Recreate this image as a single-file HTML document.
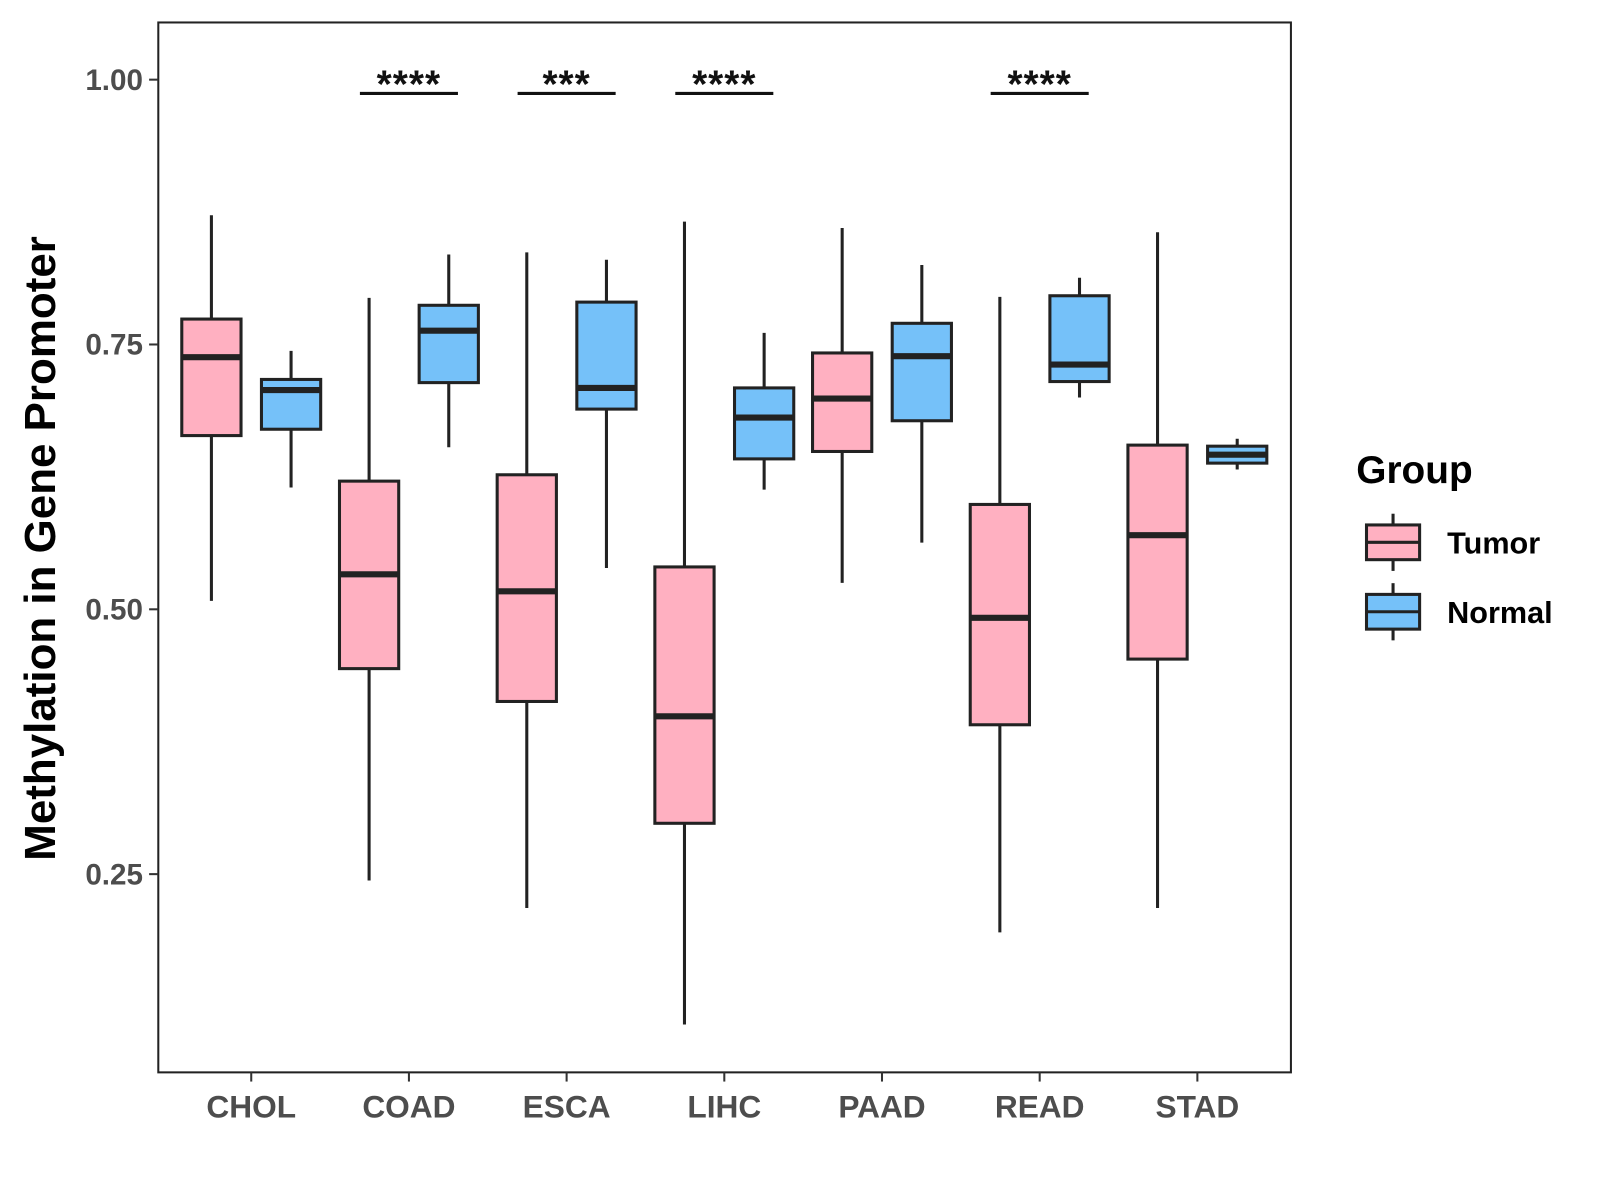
<!DOCTYPE html>
<html><head><meta charset="utf-8"><style>
html,body{margin:0;padding:0;background:#fff;}
svg{display:block;font-family:"Liberation Sans",Arial,sans-serif;}
</style></head><body>
<svg id="chart" width="1600" height="1200" viewBox="0 0 1600 1200">
<rect x="0" y="0" width="1600" height="1200" fill="#fff"/>
<g id="plot" transform="scale(1.0213)"></g>
</svg>
<script>
const categories = ["CHOL","COAD","ESCA","LIHC","PAAD","READ","STAD"];
// [whiskerLow, q1, median, q3, whiskerHigh]
const tumorStats = [
 [0.508,0.664,0.738,0.774,0.872],
 [0.244,0.444,0.533,0.621,0.794],
 [0.218,0.413,0.517,0.627,0.837],
 [0.108,0.298,0.399,0.540,0.866],
 [0.525,0.649,0.699,0.742,0.860],
 [0.195,0.391,0.492,0.599,0.795],
 [0.218,0.453,0.570,0.655,0.856]
];
const normalStats = [
 [0.615,0.670,0.707,0.717,0.744],
 [0.653,0.714,0.763,0.787,0.835],
 [0.539,0.689,0.709,0.790,0.830],
 [0.613,0.642,0.681,0.709,0.761],
 [0.563,0.678,0.739,0.770,0.825],
 [0.700,0.715,0.731,0.796,0.813],
 [0.632,0.638,0.646,0.654,0.661]
];
const yTicks = [0.25,0.50,0.75,1.00];
const yTickLabels = ["0.25","0.50","0.75","1.00"];
const sigCategories = ["COAD","ESCA","LIHC","READ"];
const sigLabels = ["****","***","****","****"];
const sigLevel = 0.987;

const NS="http://www.w3.org/2000/svg";
const g=document.getElementById('plot');
const L=155,R=1264,T=22,B=1050;
function y(v){return 78+(1-v)*1037.2;}
function x(i){return 246+i*154.4;}
function mk(tag,attrs,parent){const e=document.createElementNS(NS,tag);for(const k in attrs)e.setAttribute(k,attrs[k]);(parent||g).appendChild(e);return e;}

const panel=mk('rect',{x:L,y:T,width:R-L,height:B-T,fill:'none',stroke:'#222','stroke-width':2});



yTicks.forEach((v,i)=>{
 const t=mk('line',{x1:L-9,x2:L,y1:y(v),y2:y(v),stroke:'#333','stroke-width':2});
 
 
 const tx=mk('text',{x:L-15,y:y(v)+10,'text-anchor':'end','font-size':29,'font-weight':'bold',fill:'#4d4d4d'});
 tx.textContent=yTickLabels[i];
 
 
});
categories.forEach((c,i)=>{
 const t=mk('line',{x1:x(i),x2:x(i),y1:B,y2:B+9,stroke:'#333','stroke-width':2});
 
 
 const tx=mk('text',{x:x(i),y:B+44,'text-anchor':'middle','font-size':31,'font-weight':'bold',fill:'#4d4d4d'});
 tx.textContent=c;
 
 
});

function box(cx,s,fill,name){
 const grp=mk('g',{});
 
 
 const w=58;
 mk('line',{x1:cx,x2:cx,y1:y(s[4]),y2:y(s[0]),stroke:'#222','stroke-width':3},grp);
 mk('rect',{x:cx-w/2,y:y(s[3]),width:w,height:y(s[1])-y(s[3]),fill:fill,stroke:'#222','stroke-width':3},grp);
 mk('line',{x1:cx-w/2,x2:cx+w/2,y1:y(s[2]),y2:y(s[2]),stroke:'#222','stroke-width':6},grp);
}
categories.forEach((c,i)=>{
 box(x(i)-39,tumorStats[i],'#ffb0c1','box-tumor-'+c.toLowerCase());
 box(x(i)+39,normalStats[i],'#75c1f9','box-normal-'+c.toLowerCase());
});
sigCategories.forEach((c,k)=>{
 const i=categories.indexOf(c);
 const ln=mk('line',{x1:x(i)-48,x2:x(i)+48,y1:y(sigLevel),y2:y(sigLevel),stroke:'#111','stroke-width':3});
 
 
 const tx=mk('text',{x:x(i),y:y(sigLevel)+4,'text-anchor':'middle','font-size':38,'font-weight':'bold','letter-spacing':1,fill:'#111'});
 tx.textContent=sigLabels[k];
 
 
});
const yt=mk('text',{x:0,y:0,transform:'translate(54,537) rotate(-90)','text-anchor':'middle','font-size':43,'font-weight':'bold',fill:'#000'});
yt.textContent='Methylation in Gene Promoter';



const lg=mk('g',{});


const lt=mk('text',{x:1328,y:473,'font-size':38,'font-weight':'bold',fill:'#000'},lg);
lt.textContent='Group';
[['Tumor','#ffb0c1',531],['Normal','#75c1f9',599]].forEach(([lab,col,cy])=>{
 const e=mk('g',{},lg);
 
 
 mk('line',{x1:1364,x2:1364,y1:cy-28,y2:cy+28,stroke:'#222','stroke-width':3},e);
 mk('rect',{x:1338,y:cy-17,width:52,height:34,fill:col,stroke:'#222','stroke-width':3},e);
 mk('line',{x1:1338,x2:1390,y1:cy,y2:cy,stroke:'#222','stroke-width':3},e);
 const t=mk('text',{x:1417,y:cy+11,'font-size':30,'font-weight':'bold',fill:'#000'},e);
 t.textContent=lab;
});
</script>
</body></html>
